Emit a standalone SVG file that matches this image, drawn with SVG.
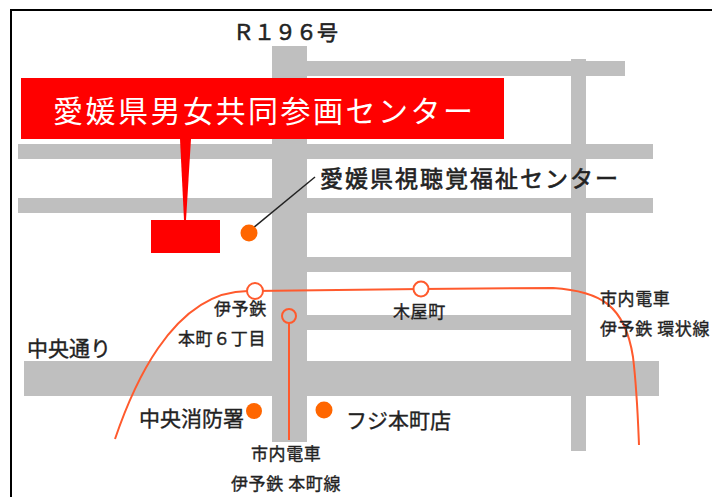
<svg xmlns="http://www.w3.org/2000/svg" width="712" height="497" viewBox="0 0 712 497">
<style>
text{font-family:"Noto Sans CJK JP","Liberation Sans",sans-serif;fill:#222;stroke:#222;stroke-width:.35px}
.road{fill:#bfbfbf}
.rail{fill:none;stroke:#ff5a2d;stroke-width:2}
.stn{fill:#fff;stroke:#ff5a2d;stroke-width:2}
.dot{fill:#ff6600}
.s{font-size:17px;letter-spacing:.6px}
.m{font-size:21px}
</style>
<rect width="712" height="497" fill="#fff"/>
<path d="M712 10H11V497" fill="none" stroke="#000" stroke-width="2"/>
<g id="roads">
<rect class="road" x="307" y="61" width="318" height="15"/>
<rect class="road" x="18" y="144" width="635" height="15"/>
<rect class="road" x="18" y="198" width="635" height="15"/>
<rect class="road" x="307" y="257" width="265" height="15"/>
<rect class="road" x="307" y="315" width="265" height="15"/>
<rect class="road" x="24" y="361" width="635" height="35"/>
<rect class="road" x="272" y="46" width="35" height="396"/>
<rect class="road" x="571" y="59" width="15" height="392"/>
</g>
<g id="connectors">
<path class="rail" d="M115 439C130 395 170 291 248 291L421 289L553 288C600 291 625 305 633 357C637 390 638 420 639 445"/>
<path class="rail" d="M289 323V440"/>
<path d="M253 228L315 177" fill="none" stroke="#222" stroke-width="1.5"/>
</g>
<g id="station-iyotetsu"><circle class="stn" cx="255" cy="291" r="8"/>
<text class="s" x="214" y="315">伊予鉄</text><text class="s" x="178" y="345">本町６丁目</text></g>
<g id="station-kiyacho"><circle class="stn" cx="421" cy="289" r="7.5"/><text class="s" x="393" y="318">木屋町</text></g>
<g id="station-honmachi"><circle class="stn" style="fill:none" cx="289" cy="316" r="7"/></g>
<g id="label-r196"><text x="233" y="40" font-size="21" style="stroke-width:.6px">Ｒ１９６号</text></g>
<g id="center">
<path d="M180 139H191L186 220H184Z" fill="#f00"/>
<rect x="21" y="78" width="483" height="61" fill="#f00"/>
<rect x="151" y="220" width="69" height="33" fill="#f00"/>
<text x="53" y="122" font-size="30" letter-spacing="2.5" style="fill:#fff;stroke:none">愛媛県男女共同参画センター</text>
</g>
<g id="welfare-center"><circle class="dot" cx="249" cy="233" r="8.5"/>
<text x="320" y="187" font-size="23" letter-spacing="2" style="stroke-width:.6px">愛媛県視聴覚福祉センター</text></g>
<g id="label-chuo"><text class="m" x="27" y="356">中央通り</text></g>
<g id="fire"><circle class="dot" cx="254" cy="411" r="8"/><text class="m" x="139" y="426">中央消防署</text></g>
<g id="fuji"><circle class="dot" cx="324" cy="410" r="8.5"/><text class="m" x="346" y="428">フジ本町店</text></g>
<g id="label-honmachi"><text class="s" x="251" y="460">市内電車</text><text class="s" x="231" y="490">伊予鉄 本町線</text></g>
<g id="label-loop"><text class="s" x="600" y="305">市内電車</text><text class="s" x="600" y="335">伊予鉄 環状線</text></g>
</svg>
